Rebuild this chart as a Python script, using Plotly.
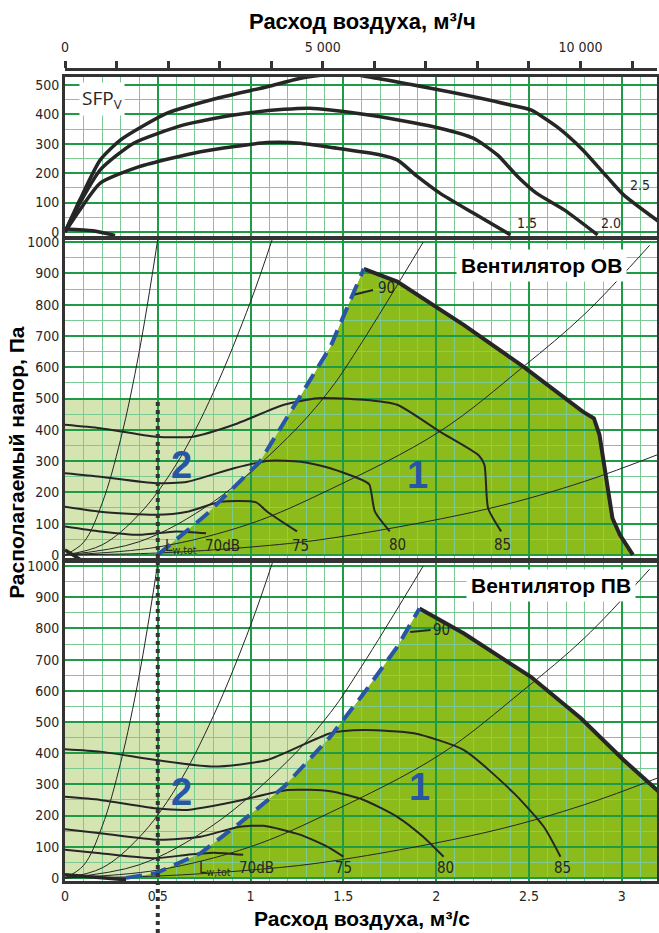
import numpy as np
import plotly.graph_objects as go

# ---------------- данные ----------------
# верхняя панель SFPv (x в м3/с)
sfp15_x = [0, 0.08, 0.19, 0.40, 0.73, 1.09, 1.27, 1.43, 1.70, 1.79, 1.90, 2.02, 2.20, 2.40]
sfp15_y = [0, 75, 166, 222, 273, 304, 302, 288, 262, 245, 188, 132, 64, -10]
sfp20_x = [0, 0.06, 0.19, 0.37, 0.64, 0.91, 1.18, 1.32, 1.43, 1.70, 2.02, 2.20, 2.33, 2.44, 2.54, 2.69, 2.87]
sfp20_y = [0, 75, 211, 302, 364, 398, 417, 421, 415, 392, 353, 319, 262, 188, 132, 75, -10]
sfp25_x = [0, 0.08, 0.19, 0.30, 0.55, 0.82, 1.09, 1.27, 1.50, 1.68, 1.97, 2.24, 2.40, 2.51, 2.65, 2.79, 2.92, 3.01, 3.20]
sfp25_y = [0, 109, 245, 313, 404, 455, 494, 523, 540, 523, 489, 455, 432, 415, 358, 279, 188, 126, 35]
sfp_stub_x = [0, 0.15, 0.27]
sfp_stub_y = [10, 4, -12]
sfp_labels = ['1.5', '2.0', '2.5']
sfp_label_x = [2.49, 2.94, 3.10]
sfp_label_y = [30, 30, 160]

# характеристики сети (одинаковы для обеих панелей)
sys1_x = [0, 0.10, 0.20, 0.30, 0.40, 0.50]
sys1_y = [0, 40, 165, 370, 650, 1010]
sys2_x = [0, 0.20, 0.40, 0.60, 0.80, 1.00, 1.12]
sys2_y = [0, 32, 130, 290, 520, 810, 1015]
sys3_x = [0, 0.40, 0.80, 1.20, 1.43, 1.60, 1.93]
sys3_y = [0, 42, 170, 375, 530, 680, 1000]
sys4_x = [0, 0.50, 1.00, 1.43, 2.02, 2.47, 2.80, 3.15]
sys4_y = [0, 25, 100, 210, 395, 602, 770, 990]
sys5_x = [0, 0.50, 1.00, 1.43, 2.29, 2.80, 3.20]
sys5_y = [0, 6, 25, 53, 149, 235, 322]

# Вентилятор ОВ
ob70_x = [0, 0.19, 0.40, 0.60, 0.76]
ob70_y = [91, 75, 64, 75, 69]
ob75_x = [0, 0.19, 0.49, 0.66, 0.84, 1.03, 1.09, 1.25]
ob75_y = [154, 138, 128, 138, 170, 168, 138, 75]
ob80_x = [0, 0.19, 0.49, 0.66, 0.91, 1.10, 1.27, 1.43, 1.60, 1.64, 1.67, 1.75]
ob80_y = [261, 250, 229, 234, 277, 301, 298, 277, 240, 225, 138, 75]
ob85_x = [0, 0.19, 0.49, 0.69, 0.91, 1.18, 1.36, 1.61, 1.79, 2.02, 2.23, 2.26, 2.28, 2.35]
ob85_y = [416, 405, 378, 378, 416, 480, 501, 496, 480, 394, 318, 288, 149, 75]
ob90_x = [1.55, 1.66]
ob90_y = [831, 847]
ob_dash_x = [0.50, 0.76, 1.05, 1.25, 1.43, 1.61]
ob_dash_y = [0, 128, 298, 490, 665, 915]
ob_max_x = [1.61, 1.79, 2.15, 2.47, 2.79, 2.85, 2.88, 2.91, 2.95, 2.99, 3.06]
ob_max_y = [915, 874, 735, 602, 458, 437, 384, 277, 117, 64, 0]
ob_stub_x = [0, 0.08]
ob_stub_y = [16, -14]

# Вентилятор ПВ
pv70_x = [0, 0.19, 0.48, 0.66, 0.80, 0.96]
pv70_y = [90, 79, 63, 74, 81, 74]
pv75_x = [0, 0.19, 0.51, 0.73, 0.94, 1.07, 1.27, 1.43, 1.50]
pv75_y = [156, 143, 122, 132, 164, 167, 138, 95, 68]
pv80_x = [0, 0.19, 0.49, 0.66, 0.91, 1.20, 1.43, 1.61, 1.79, 1.93, 2.04]
pv80_y = [260, 250, 223, 218, 244, 282, 278, 250, 196, 132, 68]
pv85_x = [0, 0.19, 0.49, 0.80, 1.09, 1.43, 1.61, 1.88, 2.15, 2.42, 2.58, 2.67]
pv85_y = [413, 405, 378, 357, 378, 464, 474, 464, 410, 271, 164, 68]
pv90_x = [1.86, 1.97]
pv90_y = [789, 795]
pv_dash_x = [0.33, 0.49, 0.73, 0.94, 1.18, 1.43, 1.61, 1.79, 1.91]
pv_dash_y = [0, 15, 79, 175, 292, 453, 592, 741, 864]
pv_max_x = [1.91, 2.15, 2.51, 2.78, 3.01, 3.25]
pv_max_y = [864, 784, 645, 512, 378, 250]
pv_stub_x = [0, 0.33]
pv_stub_y = [10, -6]

zone2_top = 500          # граница зоны 2, Па
x_mark = 0.5             # пунктир 0,5 м3/с

x_ticks = [0, 0.5, 1, 1.5, 2, 2.5, 3]
x_ticktext = ['0', '0.5', '1', '1.5', '2', '2.5', '3']
top_ticks = list(range(0, 12000, 1000))
top_ticktext = ['0' if v == 0 else ('5 000' if v == 5000 else ('10 000' if v == 10000 else '')) for v in top_ticks]

# ---------------- оформление ----------------
frame = '#333333'
ink = '#262626'
blue = '#2856a6'
dark_fill = '#8cbb1c'
light_fill = '#d4e5b2'
grid_major = '#1f9a45'
grid_minor = '#7cc994'
narrow = 'Liberation Sans Narrow, DejaVu Sans Condensed, Arial Narrow, sans-serif'
bold = 'Liberation Sans, Arial, sans-serif'

fig = go.Figure()


def line(x, y, ax, width, color=ink, dash=None, shape='spline', smooth=0.6):
    xa, ya = ax
    fig.add_trace(go.Scatter(x=x, y=y, xaxis=xa, yaxis=ya, mode='lines',
                             line=dict(width=width, color=color, dash=dash, shape=shape, smoothing=smooth),
                             hoverinfo='skip', showlegend=False))


def path(xs, ys):
    return 'M ' + ' L '.join(f'{a},{b}' for a, b in zip(xs, ys)) + ' Z'


top = ('x', 'y')
mid = ('x2', 'y2')
bot = ('x3', 'y3')

# --- заливки (под сеткой) ---
for ax, dx, dy, mx, my in [(mid, ob_dash_x, ob_dash_y, ob_max_x, ob_max_y),
                           (bot, pv_dash_x, pv_dash_y, pv_max_x, pv_max_y)]:
    xr, yr = ax
    x_edge = float(np.interp(zone2_top, dy, dx))
    fig.add_shape(type='rect', xref=xr, yref=yr, x0=0, x1=x_edge, y0=0, y1=zone2_top,
                  fillcolor=light_fill, line_width=0, layer='below')
    px = list(dx) + list(mx[1:])
    py = list(dy) + list(my[1:])
    if py[-1] != 0:
        px.append(mx[-1])
        py.append(0)
    fig.add_shape(type='path', xref=xr, yref=yr, path=path(px, py),
                  fillcolor=dark_fill, line_width=0, layer='below')

# --- SFP ---
for xs, ys in [(sfp15_x, sfp15_y), (sfp20_x, sfp20_y), (sfp25_x, sfp25_y)]:
    line(xs, ys, top, 3.5)
line(sfp_stub_x, sfp_stub_y, top, 3.5)

# --- характеристики сети ---
for ax in (mid, bot):
    for xs, ys in [(sys1_x, sys1_y), (sys2_x, sys2_y), (sys3_x, sys3_y), (sys4_x, sys4_y), (sys5_x, sys5_y)]:
        line(xs, ys, ax, 1, smooth=1.0)

# --- кривые шума и границы ---
for xs, ys in [(ob70_x, ob70_y), (ob75_x, ob75_y), (ob80_x, ob80_y), (ob85_x, ob85_y), (ob90_x, ob90_y)]:
    line(xs, ys, mid, 2)
for xs, ys in [(pv70_x, pv70_y), (pv75_x, pv75_y), (pv80_x, pv80_y), (pv85_x, pv85_y), (pv90_x, pv90_y)]:
    line(xs, ys, bot, 2)
line(ob_stub_x, ob_stub_y, mid, 3.5, shape='linear')
line(pv_stub_x, pv_stub_y, bot, 3.5, shape='linear')
line(ob_max_x, ob_max_y, mid, 4, shape='linear')
line(pv_max_x, pv_max_y, bot, 4, shape='linear')
line(ob_dash_x, ob_dash_y, mid, 4, color=blue, dash='16px,9px', shape='linear')
line(pv_dash_x, pv_dash_y, bot, 4, color=blue, dash='16px,9px', shape='linear')

# --- пунктир 0,5 м3/с ---
fig.add_shape(type='line', xref='x2', yref='y2', x0=x_mark, x1=x_mark, y0=-10, y1=zone2_top,
              line=dict(color=frame, width=4, dash='dot'))
fig.add_shape(type='line', xref='x3', yref='paper', x0=x_mark, x1=x_mark, y0=-0.064, y1=0.3916,
              line=dict(color=frame, width=4, dash='dot'))

# --- подписи ---
ann = []


def note(text, x, y, ax, size=14, family=narrow, color=ink, bg=None, xanchor='center', pad=1):
    ann.append(dict(text=text, x=x, y=y, xref=ax[0], yref=ax[1], showarrow=False,
                    font=dict(size=size, family=family, color=color), bgcolor=bg,
                    xanchor=xanchor, yanchor='middle', borderpad=pad))


for t, xx, yy in zip(sfp_labels, sfp_label_x, sfp_label_y):
    note(t, xx, yy, top)
note('SFP<sub>V</sub>', 0.20, 452, top, size=19, family='Open Sans, Noto Sans, sans-serif', bg='white', pad=2)

note('L<sub>w,tot</sub>  70dB', 0.53, 27, mid, size=15, xanchor='left')
note('75', 1.27, 27, mid, size=15)
note('80', 1.79, 32, mid, size=15)
note('85', 2.36, 32, mid, size=15)
note('90', 1.73, 853, mid, size=15)
note('<b>2</b>', 0.63, 288, mid, size=38, family=bold, color=blue)
note('<b>1</b>', 1.90, 256, mid, size=38, family=bold, color=blue)
note('<b>Вентилятор ОВ</b>', 2.57, 927, mid, size=21, family=bold, color='black', bg='white', pad=4)

note('L<sub>w,tot</sub>  70dB', 0.71, 31, bot, size=15, xanchor='left')
note('75', 1.50, 31, bot, size=15)
note('80', 2.05, 31, bot, size=15)
note('85', 2.68, 31, bot, size=15)
note('90', 2.03, 795, bot, size=15)
note('<b>2</b>', 0.63, 276, bot, size=38, family=bold, color=blue)
note('<b>1</b>', 1.91, 292, bot, size=38, family=bold, color=blue)
note('<b>Вентилятор ПВ</b>', 2.62, 939, bot, size=21, family=bold, color='black', bg='white', pad=4)

ann.append(dict(text='<b>Расход воздуха, м³/ч</b>', x=0.502, y=1.058, xref='paper', yref='paper',
                xanchor='center', yanchor='middle',
                showarrow=False, font=dict(size=22, family=bold, color='black')))
ann.append(dict(text='<b>Расход воздуха, м³/с</b>', x=0.502, y=-0.046, xref='paper', yref='paper',
                xanchor='center', yanchor='middle',
                showarrow=False, font=dict(size=21, family=bold, color='black')))
ann.append(dict(text='<b>Располагаемый напор, Па</b>', x=-0.081, y=0.515, xref='paper', yref='paper',
                xanchor='center', yanchor='middle',
                showarrow=False, textangle=-90, font=dict(size=21, family=bold, color='black')))

# --- оси ---
xr = [0, 3.19]
xbase = dict(range=xr, showgrid=True, gridcolor=grid_major, gridwidth=1.5, tick0=0, dtick=0.5,
             minor=dict(dtick=0.1, showgrid=True, gridcolor=grid_minor, gridwidth=1),
             showline=True, linewidth=3, linecolor=frame, mirror=True, zeroline=False, ticks='',
             fixedrange=True, automargin=False)
ybase = dict(showgrid=True, gridcolor=grid_major, gridwidth=1.5, tick0=0, dtick=100,
             minor=dict(dtick=50, showgrid=True, gridcolor=grid_minor, gridwidth=1),
             showline=True, linewidth=3, linecolor=frame, mirror=True, zeroline=False, ticks='',
             tickfont=dict(size=14, family=narrow, color=ink), fixedrange=True, automargin=False)

fig.update_layout(
    width=659, height=933,
    margin=dict(l=65, r=2, t=69, b=52, autoexpand=False),
    plot_bgcolor='white', paper_bgcolor='white',
    showlegend=False,
    xaxis=dict(xbase, anchor='y', showticklabels=False),
    xaxis2=dict(xbase, anchor='y2', showticklabels=False),
    xaxis3=dict(xbase, anchor='y3', tickmode='array', tickvals=x_ticks, ticktext=x_ticktext,
                tickfont=dict(size=14, family=narrow, color=ink), ticklabelstandoff=0),
    xaxis4=dict(overlaying='x', side='top', anchor='free', position=1,
                range=[xr[0] * 3600, xr[1] * 3600], showgrid=False, zeroline=False,
                tickmode='array', tickvals=top_ticks, ticktext=top_ticktext,
                ticks='outside', ticklen=7, tickwidth=2.5, tickcolor=frame,
                showline=True, linewidth=3, linecolor=frame, automargin=False,
                tickfont=dict(size=14, family=narrow, color=ink), ticklabelstandoff=3, fixedrange=True),
    yaxis=dict(ybase, domain=[0.7943, 0.9901], anchor='x', range=[-14, 527],
               tickmode='array', tickvals=list(range(0, 600, 100))),
    yaxis2=dict(ybase, domain=[0.3978, 0.7894], anchor='x2', range=[-10, 1007],
                tickmode='array', tickvals=list(range(0, 1100, 100))),
    yaxis3=dict(ybase, domain=[0.0, 0.3916], anchor='x3', range=[-10, 1010],
                tickmode='array', tickvals=list(range(0, 1100, 100))),
    annotations=ann,
)

# пустой след, чтобы верхняя шкала м³/ч точно отрисовалась
fig.add_trace(go.Scatter(x=[0], y=[0], xaxis='x4', yaxis='y', mode='markers',
                         marker=dict(size=1, color='rgba(0,0,0,0)'), hoverinfo='skip', showlegend=False))

# убираем стандартный отступ body, чтобы рисунок встал ровно в окно 659x933
fig.write_html("out.html", config={'displayModeBar': False},
               post_script="document.body.style.margin='0px';document.body.style.overflow='hidden';")
